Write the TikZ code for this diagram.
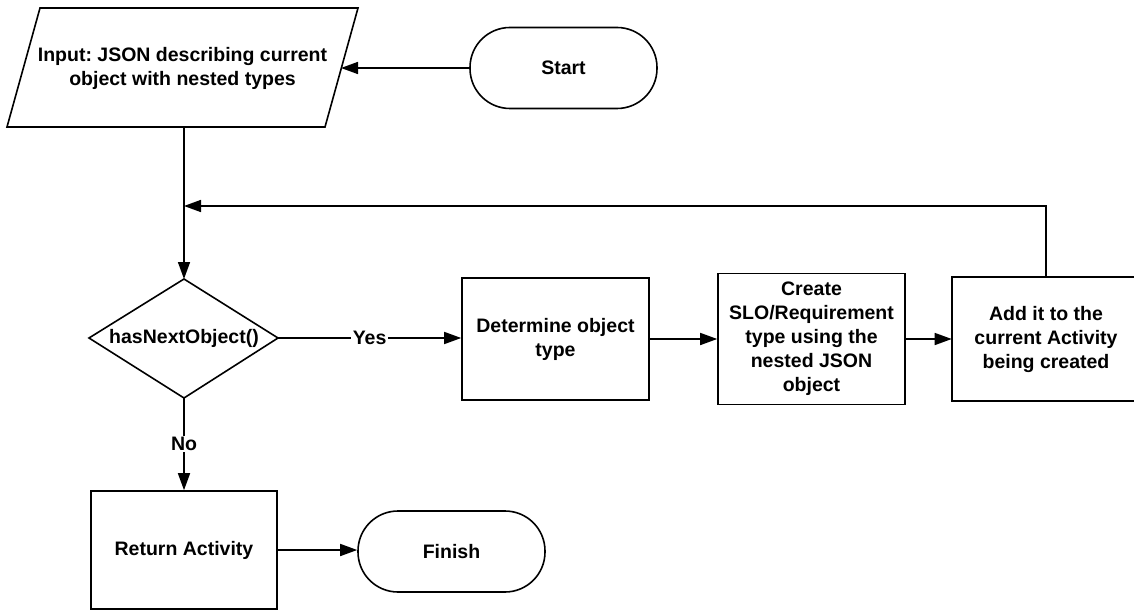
\documentclass[tikz,border=0pt]{standalone}
\usepackage{fontspec}
\setmainfont{Liberation Sans}
\usetikzlibrary{arrows.meta}
\frenchspacing
\begin{document}
\begin{tikzpicture}[x=1pt,y=-1pt,
  line width=1.6pt,
  txt/.style={font=\bfseries\fontsize{19.5}{24}\selectfont, align=center, inner sep=0pt},
  box/.style={txt, draw, minimum width=187pt, minimum height=122pt},
  term/.style={txt, draw, rounded corners=40pt, minimum width=187pt, minimum height=81pt},
  arr/.style={-{Triangle[length=17pt,width=12pt]}},
  lbl/.style={txt, fill=white, inner sep=1.5pt}]
\useasboundingbox (0,0) rectangle (1134,612);

% start / input
\node[term] (start) at (563.5,68) {Start};
\draw (40,8) -- (358,8) -- (325,127) -- (7,127) -- cycle;
\node[txt] (input) at (182.5,68) {Input: JSON describing current\\object with nested types};
\coordinate (inR) at (341,68);
\coordinate (inB) at (184,127);

% decision
\draw (89,338) -- (184,279) -- (278,338) -- (184,398) -- cycle;
\node[txt] (dec) at (184,338) {hasNextObject()};
\coordinate (dT) at (184,279);
\coordinate (dR) at (278,338);
\coordinate (dB) at (184,398);
\coordinate (loopend) at (184,206);

% process boxes
\node[box] (det) at (555.5,339) {Determine object\\type};
\node[box, minimum height=131pt] (cre) at (811.5,339) {Create\\SLO/Requirement\\type using the\\nested JSON\\object};
\node[box, draw=none] (add) at (1046,339) {Add it to the\\current Activity\\being created};
\draw (add.south west) rectangle ([xshift=15pt]add.north east);
\node[box, minimum width=186pt, minimum height=118pt] (ret) at (184,550) {Return Activity};
\node[term] (fin) at (451.5,551.5) {Finish};

% connectors
\draw[arr] (start.west) -- (inR);
\draw[arr] (inB) -- (dT);
\draw[arr] (add.north) |- (loopend);
\draw[arr] (dR) -- node[lbl] {Yes} (dR -| det.west);
\draw[arr] (det.east) -- (det.east -| cre.west);
\draw[arr] (cre.east) -- (cre.east -| add.west);
\draw[arr] (dB) -- node[lbl] {No} (ret.north);
\draw[arr] (ret.east) -- (ret.east -| fin.west);
\end{tikzpicture}
\end{document}
